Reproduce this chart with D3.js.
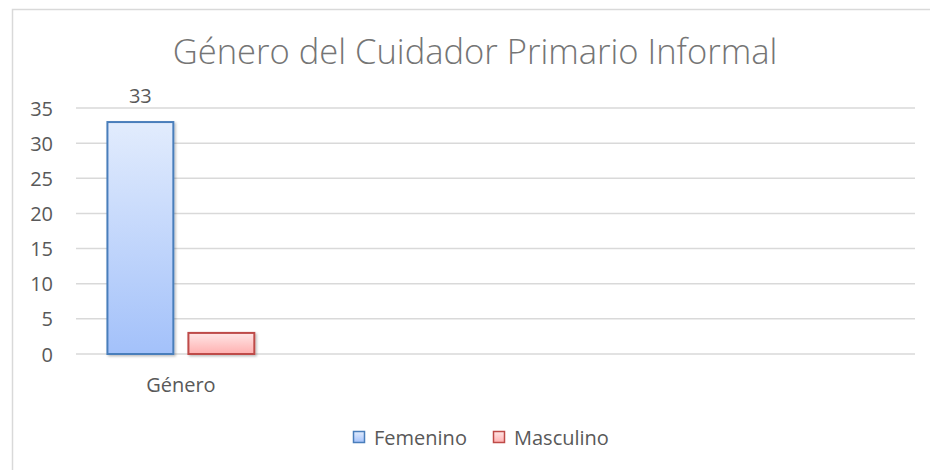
<!DOCTYPE html>
<html><head><meta charset="utf-8">
<script src="https://cdn.jsdelivr.net/npm/d3@7"></script>
<style>
html,body{margin:0;padding:0;background:#fff;}
svg{display:block;font-family:"Open Sans",Lato,sans-serif;}
</style></head>
<body>
<svg id="chart" width="930" height="470"></svg>
<script>
const title = "Género del Cuidador Primario Informal";
const categories = ["Género", "", "", ""];
const seriesNames = ["Femenino", "Masculino"];
const femenino = [33, null, null, null];
const masculino = [3, null, null, null];
const showLabels = [true, false];
const yTicks = [0, 5, 10, 15, 20, 25, 30, 35];

const seriesValues = [femenino, masculino];
const colors = [
  {top:"#e2ecfd", bottom:"#a3c1fa", stroke:"#4a7ebb"},
  {top:"#ffe6e6", bottom:"#ffb0b0", stroke:"#be4b48"}
];
const FONT = "'Open Sans',Lato,sans-serif";
const FS = 20;

const svg = d3.select("#chart");
const W = 930, H = 470;
const margin = {left:76, right:15, top:108, bottom:116};
const plotW = W - margin.left - margin.right;
const plotH = H - margin.top - margin.bottom;

// chart border
svg.append("rect").attr("x",12.5).attr("y",9.5).attr("width",W+20).attr("height",H+20)
  .attr("fill","#fff").attr("stroke","#d9d9d9").attr("stroke-width",1.5);

const defs = svg.append("defs");
colors.forEach((c,i)=>{
  const g = defs.append("linearGradient").attr("id","grad"+i).attr("x1",0).attr("y1",0).attr("x2",0).attr("y2",1);
  g.append("stop").attr("offset","0%").attr("stop-color",c.top);
  g.append("stop").attr("offset","100%").attr("stop-color",c.bottom);
});
const f = defs.append("filter").attr("id","shadow").attr("x","-20%").attr("y","-20%").attr("width","140%").attr("height","140%");
f.append("feDropShadow").attr("dx",1.5).attr("dy",1.5).attr("stdDeviation",1.2).attr("flood-color","#000").attr("flood-opacity",0.25);

const g = svg.append("g").attr("transform",`translate(${margin.left},${margin.top})`);

const x = d3.scaleBand().domain(d3.range(categories.length)).range([0, plotW]).padding(0);
const xs = d3.scaleBand().domain(d3.range(seriesNames.length)).range([0, x.bandwidth()])
  .paddingInner(0.186).paddingOuter(0.388);
const y = d3.scaleLinear().domain([0, 35]).range([plotH, 0]);

// gridlines
g.append("g").selectAll("line").data(yTicks).join("line")
  .attr("x1",0).attr("x2",plotW)
  .attr("y1",d=>y(d)).attr("y2",d=>y(d))
  .attr("stroke","#d9d9d9").attr("stroke-width",1.5);

// y axis labels
const yAxis = d3.axisLeft(y).tickValues(yTicks).tickSize(0).tickPadding(0);
const ya = g.append("g").attr("transform","translate(-23,0)").call(yAxis);
ya.select(".domain").remove();
ya.selectAll("text").attr("font-size",FS).attr("fill","#595959").attr("font-family",FONT).attr("dy","0.35em");

// x axis labels
const xAxis = d3.axisBottom(x).tickFormat(i=>categories[i]).tickSize(0).tickPadding(0);
const xa = g.append("g").attr("transform",`translate(0,${plotH+38})`).call(xAxis);
xa.select(".domain").remove();
xa.selectAll("text").attr("font-size",FS).attr("fill","#595959").attr("font-family",FONT).attr("dy","0");

// bars
const barData = [];
seriesValues.forEach((vals, si)=>{
  vals.forEach((v, ci)=>{ if (v != null) barData.push({si, ci, v}); });
});
g.append("g").selectAll("rect").data(barData).join("rect")
  .attr("x",d=>x(d.ci)+xs(d.si))
  .attr("y",d=>y(d.v))
  .attr("width",xs.bandwidth())
  .attr("height",d=>y(0)-y(d.v))
  .attr("fill",d=>`url(#grad${d.si})`)
  .attr("stroke",d=>colors[d.si].stroke)
  .attr("stroke-width",2)
  .attr("filter","url(#shadow)");

// data labels
g.append("g").selectAll("text").data(barData.filter(d=>showLabels[d.si])).join("text")
  .attr("x",d=>x(d.ci)+xs(d.si)+xs.bandwidth()/2)
  .attr("y",d=>y(d.v)-19)
  .attr("text-anchor","middle")
  .attr("font-size",FS).attr("fill","#595959")
  .text(d=>d.v);

// title
const t = svg.append("text").attr("x",475).attr("y",64).attr("text-anchor","middle")
  .attr("font-size",31).attr("fill","#757575").attr("font-weight",300).text(title);
const tw = t.node().getComputedTextLength();
t.attr("font-size", 31*605/tw);

// legend
const legend = svg.append("g");
const legX = [353, 493];
seriesNames.forEach((name,i)=>{
  const lg = legend.append("g").attr("transform",`translate(${legX[i]},431)`);
  lg.append("rect").attr("x",0.5).attr("y",0.5).attr("width",11).attr("height",11)
    .attr("fill",`url(#grad${i})`).attr("stroke",colors[i].stroke).attr("stroke-width",1.5);
  lg.append("text").attr("x",21).attr("y",14).attr("font-size",FS).attr("fill","#595959").text(name);
});
</script>
</body></html>
